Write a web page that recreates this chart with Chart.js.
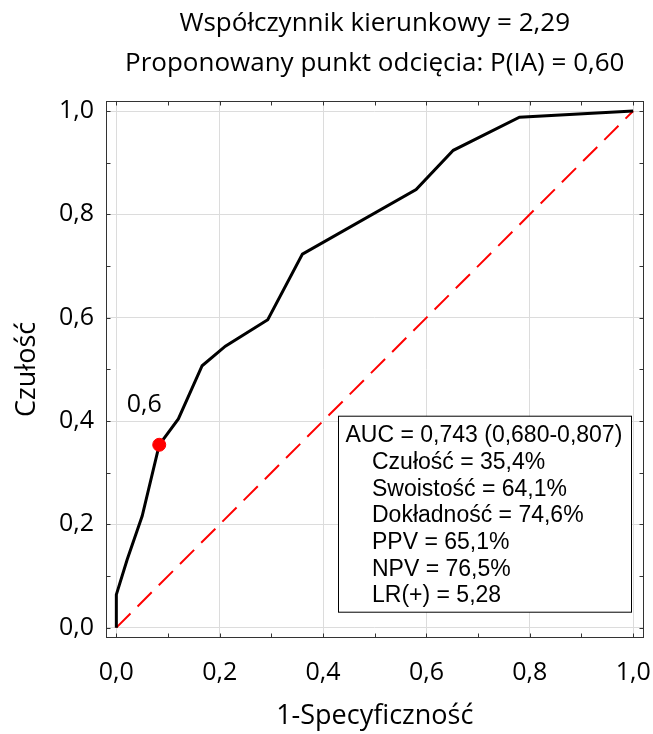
<!DOCTYPE html>
<html><head><meta charset="utf-8">
<script src="https://cdn.jsdelivr.net/npm/chart.js@4.4.0/dist/chart.umd.min.js"></script>
<style>html,body{margin:0;padding:0;background:#fff}</style>
</head><body>
<canvas id="c" width="653" height="734"></canvas>
<script>
// ROC curve data (1-specificity, sensitivity)
const fprValues = [0, 0, 0.021, 0.040, 0.050, 0.083, 0.120, 0.166, 0.211, 0.293, 0.360, 0.580, 0.652, 0.780, 1.0];
const tprValues = [0, 0.064, 0.132, 0.187, 0.216, 0.354, 0.404, 0.507, 0.545, 0.596, 0.723, 0.848, 0.924, 0.988, 1.0];
// reference diagonal
const refX = [0, 1];
const refY = [0, 1];
// proposed cut-off point
const cutoffX = [0.083];
const cutoffY = [0.354];
const cutoffLabel = '0,6';
// ticks
const tickValues = [0, 0.2, 0.4, 0.6, 0.8, 1.0];
const tickLabels = ['0,0', '0,2', '0,4', '0,6', '0,8', '1,0'];
const minorTickValues = [0, 0.1, 0.2, 0.3, 0.4, 0.5, 0.6, 0.7, 0.8, 0.9, 1.0];
// texts
const titleLines = ['Współczynnik kierunkowy = 2,29', 'Proponowany punkt odcięcia: P(IA) = 0,60'];
const xTitle = '1-Specyficzność';
const yTitle = 'Czułość';
const statsLines = ['AUC = 0,743 (0,680-0,807)', 'Czułość = 35,4%', 'Swoistość = 64,1%', 'Dokładność = 74,6%', 'PPV = 65,1%', 'NPV = 76,5%', 'LR(+) = 5,28'];

const toPts = (xs, ys) => xs.map((x, i) => ({x: x, y: ys[i]}));

const framePlugin = {
  id: 'frame',
  afterDatasetsDraw(chart) {
    const ctx = chart.ctx;
    const a = chart.chartArea;
    const xs = chart.scales.x, ys = chart.scales.y;
    ctx.save();
    // stats box
    const bl = a.left + 232.5, bt = a.top + 315.5, bw = 293, bh = 196;
    ctx.fillStyle = '#fff';
    ctx.fillRect(bl, bt, bw, bh);
    ctx.strokeStyle = '#000';
    ctx.lineWidth = 1;
    ctx.strokeRect(bl, bt, bw, bh);
    ctx.fillStyle = '#000';
    ctx.font = '23px "Liberation Sans", Arial, sans-serif';
    ctx.textBaseline = 'alphabetic';
    ctx.textAlign = 'left';
    statsLines.forEach((t, i) => {
      const x = i === 0 ? bl + 7 : bl + 33.5;
      ctx.fillText(t, x, bt + 26 + i * 26.7);
    });
    // cut-off label
    const meta = chart.getDatasetMeta(2);
    const p = meta.data[0];
    ctx.font = '25px "Open Sans", sans-serif';
    ctx.textAlign = 'center';
    ctx.textBaseline = 'middle';
    ctx.fillText(cutoffLabel, p.x - 15, p.y - 40);
    // frame
    ctx.strokeStyle = '#333';
    ctx.lineWidth = 1;
    const L = Math.round(a.left) + 0.5, R = Math.round(a.right) - 0.5, T = Math.round(a.top) + 0.5, B = Math.round(a.bottom) - 0.5;
    ctx.strokeRect(L, T, R - L, B - T);
    // inward ticks
    const len = 4;
    ctx.beginPath();
    minorTickValues.forEach(v => {
      const px = Math.round(xs.getPixelForValue(v)) + 0.5;
      ctx.moveTo(px, B); ctx.lineTo(px, B - len);
      ctx.moveTo(px, T); ctx.lineTo(px, T + len);
      const py = Math.round(ys.getPixelForValue(v)) + 0.5;
      ctx.moveTo(L, py); ctx.lineTo(L + len, py);
      ctx.moveTo(R, py); ctx.lineTo(R - len, py);
    });
    ctx.stroke();
    ctx.restore();
  }
};

const axisCommon = {
  type: 'linear', min: -0.02, max: 1.02,
  afterBuildTicks: s => { s.ticks = tickValues.map(v => ({value: v})); },
  grid: {color: '#dcdcdc', lineWidth: 1, drawTicks: false},
  border: {display: false}
};

new Chart(document.getElementById('c'), {
  type: 'scatter',
  data: {
    datasets: [
      {data: toPts(refX, refY), showLine: true, borderColor: '#ff0000', borderWidth: 2, borderDash: [20, 10], pointRadius: 0, order: 2},
      {data: toPts(fprValues, tprValues), showLine: true, borderColor: '#000', borderWidth: 3, pointRadius: 0, order: 1},
      {data: toPts(cutoffX, cutoffY), showLine: false, backgroundColor: '#ff0000', borderColor: '#ff0000', pointRadius: 6.5, order: 0}
    ]
  },
  options: {
    responsive: false, animation: false,
    layout: {padding: {left: 0, right: 9.5, top: 0, bottom: 0}},
    plugins: {
      legend: {display: false}, tooltip: {enabled: false},
      title: {display: true, text: titleLines, fullSize: false, color: '#000',
        font: {family: 'Open Sans', size: 26, weight: 'normal', lineHeight: 1.55},
        padding: {top: 3, bottom: 17.1}}
    },
    scales: {
      x: Object.assign({}, axisCommon, {
        afterFit: s => { s.height = 96; s.paddingLeft = 0; s.paddingRight = 0; },
        ticks: {callback: (v, i) => tickLabels[i], color: '#000', font: {family: 'Open Sans', size: 25}, padding: 20, maxRotation: 0, autoSkip: false},
        title: {display: true, text: xTitle, color: '#000', font: {family: 'Open Sans', size: 27}, padding: {top: 0, bottom: 1}}
      }),
      y: Object.assign({}, axisCommon, {
        afterFit: s => { s.width = 106; s.paddingTop = 0; s.paddingBottom = 0; },
        ticks: {callback: (v, i) => tickLabels[i], color: '#000', font: {family: 'Open Sans', size: 25}, padding: 12, autoSkip: false},
        title: {display: true, text: yTitle, color: '#000', font: {family: 'Open Sans', size: 27}, padding: {top: 11, bottom: 0}}
      })
    }
  },
  plugins: [framePlugin]
});
</script>
</body></html>
